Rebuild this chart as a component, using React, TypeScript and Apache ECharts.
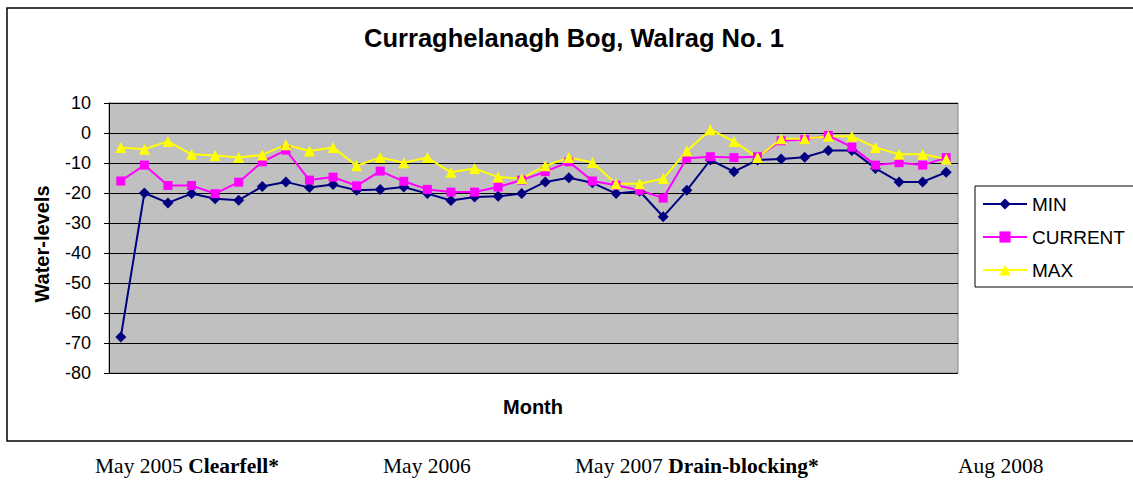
import React, { useEffect, useRef } from "react";
import * as echarts from "echarts";

const categories = [
  "1", "2", "3", "4", "5", "6", "7", "8", "9", "10", "11", "12",
  "13", "14", "15", "16", "17", "18", "19", "20", "21", "22", "23", "24",
  "25", "26", "27", "28", "29", "30", "31", "32", "33", "34", "35", "36",
];

const minValues = [
  -68, -20, -23.3, -20.2, -21.9, -22.4, -17.8, -16.3, -18.2, -17.2, -19.1, -18.8,
  -18, -20.2, -22.5, -21.3, -21.1, -20.2, -16.3, -14.9, -16.6, -20.2, -19.4, -27.9,
  -19.1, -9, -12.9, -9, -8.7, -8.1, -5.8, -5.8, -11.8, -16.3, -16.3, -13.1,
];

const currentValues = [
  -16, -10.7, -17.5, -17.5, -20.2, -16.4, -9.6, -5.7, -15.7, -14.7, -17.6, -12.7,
  -16.1, -18.8, -19.7, -19.7, -18, -15.7, -12.9, -9.6, -16, -17.4, -19.1, -21.7,
  -8.4, -7.9, -8.2, -7.9, -2.6, -2.2, -0.8, -4.7, -10.7, -9.9, -10.7, -8.2,
];

const maxValues = [
  -4.8, -5.4, -2.8, -7.1, -7.5, -8.2, -7.3, -3.9, -6, -4.8, -10.9, -8.2,
  -9.9, -8.2, -13.1, -11.8, -14.7, -15.2, -10.9, -8.2, -9.8, -16.9, -16.9, -15.2,
  -6, 1.1, -2.8, -8.2, -1.9, -1.9, -1.1, -1.1, -4.8, -7.1, -7.1, -8.7,
];

const FONT = "Arial, 'Liberation Sans', sans-serif";
const SERIF = "'Times New Roman', 'Liberation Serif', serif";
const NOTE_SIZE = 21.5;

export default function App() {
  const ref = useRef<HTMLDivElement>(null);

  useEffect(() => {
    if (!ref.current) return;
    const chart = echarts.init(ref.current, undefined, { renderer: "svg" });
    const option = {
      animation: false,
      backgroundColor: "#ffffff",
      grid: {
        left: 109,
        top: 103,
        right: 175,
        bottom: 108,
        show: true,
        backgroundColor: "#c0c0c0",
        borderColor: "#808080",
        borderWidth: 1,
      },
      legend: {
        orient: "vertical",
        left: 982,
        top: 194,
        padding: 0,
        itemWidth: 44,
        itemHeight: 14,
        itemGap: 13,
        textStyle: { fontFamily: FONT, fontSize: 19, color: "#000", lineHeight: 20 },
        data: ["MIN", "CURRENT", "MAX"],
      },
      xAxis: {
        type: "category",
        data: categories,
        boundaryGap: true,
        axisLine: { show: true, lineStyle: { color: "#000", width: 1 } },
        axisTick: { show: false },
        axisLabel: { show: false },
        splitLine: { show: false },
      },
      yAxis: {
        type: "value",
        min: -80,
        max: 10,
        interval: 10,
        axisLine: { show: true, lineStyle: { color: "#000", width: 1 } },
        axisTick: { show: true, inside: false, length: 5, lineStyle: { color: "#000" } },
        axisLabel: { fontFamily: FONT, fontSize: 18, color: "#000", margin: 18 },
        splitLine: { show: true, lineStyle: { color: "#000", width: 1 } },
      },
      series: [
        {
          name: "MIN",
          type: "line",
          data: minValues,
          symbol: "diamond",
          symbolSize: 11,
          itemStyle: { color: "#000080" },
          lineStyle: { color: "#000080", width: 2 },
        },
        {
          name: "CURRENT",
          type: "line",
          data: currentValues,
          symbol: "rect",
          symbolSize: 9,
          itemStyle: { color: "#ff00ff" },
          lineStyle: { color: "#ff00ff", width: 2 },
        },
        {
          name: "MAX",
          type: "line",
          data: maxValues,
          symbol: "triangle",
          symbolSize: 11,
          itemStyle: { color: "#ffff00" },
          lineStyle: { color: "#ffff00", width: 2 },
        },
      ],
      graphic: [
        {
          type: "rect",
          z: -10,
          shape: { x: 7, y: 8, width: 1140, height: 433 },
          style: { fill: "none", stroke: "#000", lineWidth: 1.5 },
          silent: true,
        },
        {
          type: "rect",
          shape: { x: 975, y: 186, width: 170, height: 101 },
          style: { fill: "none", stroke: "#000", lineWidth: 1 },
          silent: true,
        },
        {
          type: "text",
          x: 574,
          y: 38,
          style: {
            text: "Curraghelanagh Bog, Walrag No. 1",
            fontFamily: FONT,
            fontSize: 25.5,
            fontWeight: "bold",
            fill: "#000",
            align: "center",
            verticalAlign: "middle",
          },
        },
        {
          type: "text",
          x: 42,
          y: 244,
          rotation: Math.PI / 2,
          style: {
            text: "Water-levels",
            fontFamily: FONT,
            fontSize: 20,
            fontWeight: "bold",
            fill: "#000",
            align: "center",
            verticalAlign: "middle",
          },
        },
        {
          type: "text",
          x: 533,
          y: 407,
          style: {
            text: "Month",
            fontFamily: FONT,
            fontSize: 20,
            fontWeight: "bold",
            fill: "#000",
            align: "center",
            verticalAlign: "middle",
          },
        },
        {
          type: "text",
          x: 95,
          y: 466,
          style: {
            text: "May 2005 {b|Clearfell*}",
            fontFamily: SERIF,
            fontSize: NOTE_SIZE,
            fill: "#000",
            verticalAlign: "middle",
            rich: { b: { fontFamily: SERIF, fontSize: NOTE_SIZE, fontWeight: "bold", fill: "#000" } },
          },
        },
        {
          type: "text",
          x: 383,
          y: 466,
          style: {
            text: "May 2006",
            fontFamily: SERIF,
            fontSize: NOTE_SIZE,
            fill: "#000",
            verticalAlign: "middle",
          },
        },
        {
          type: "text",
          x: 575,
          y: 466,
          style: {
            text: "May 2007 {b|Drain-blocking*}",
            fontFamily: SERIF,
            fontSize: NOTE_SIZE,
            fill: "#000",
            verticalAlign: "middle",
            rich: { b: { fontFamily: SERIF, fontSize: NOTE_SIZE, fontWeight: "bold", fill: "#000" } },
          },
        },
        {
          type: "text",
          x: 958,
          y: 466,
          style: {
            text: "Aug 2008",
            fontFamily: SERIF,
            fontSize: NOTE_SIZE,
            fill: "#000",
            verticalAlign: "middle",
          },
        },
      ],
    };
    chart.setOption(option);
    return () => chart.dispose();
  }, []);

  return (
    <div
      ref={ref}
      style={{ position: "absolute", left: 0, top: 0, width: 1133, height: 481 }}
    />
  );
}
